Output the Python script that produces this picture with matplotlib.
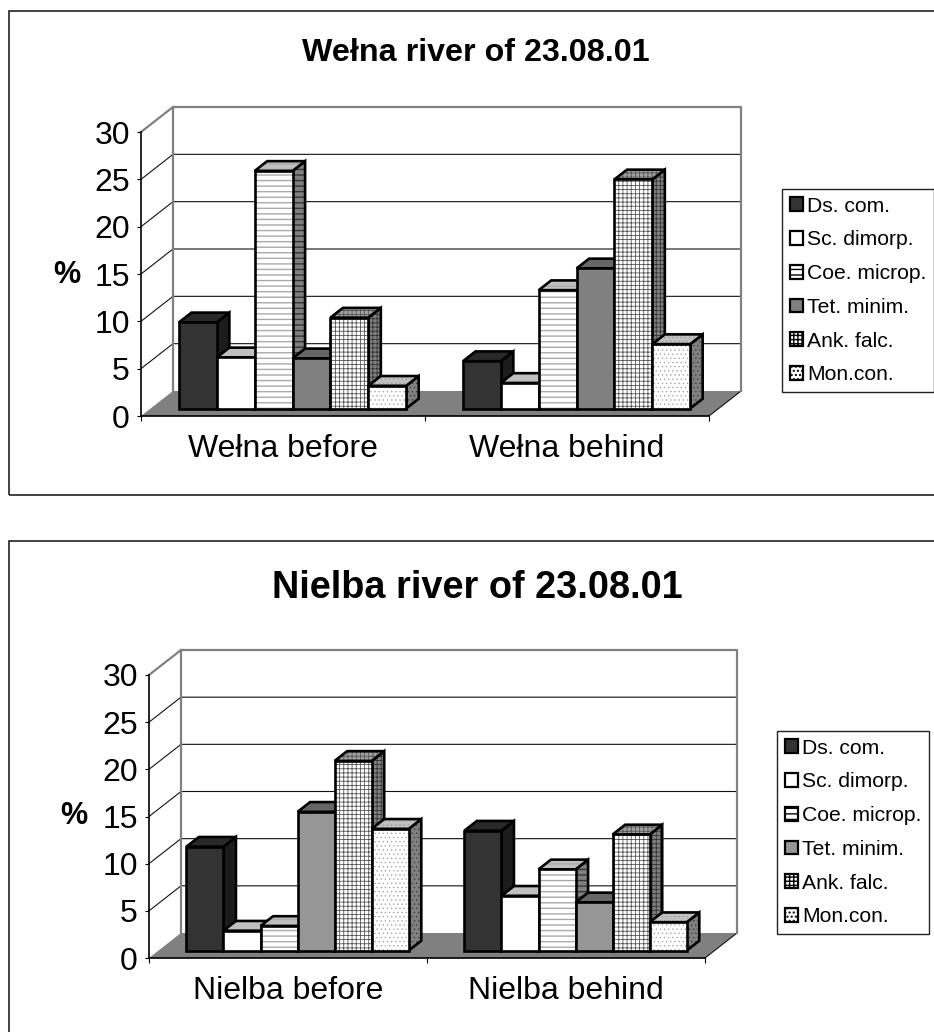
import matplotlib
matplotlib.use("Agg")
import matplotlib.pyplot as plt
from matplotlib.patches import Patch, Polygon, Rectangle

W, H = 934, 1032

species = ["Ds. com.", "Sc. dimorp.", "Coe. microp.", "Tet. minim.", "Ank. falc.", "Mon.con."]

welna_sites = ["Wełna before", "Wełna behind"]
welna_before = [9.1, 5.4, 25.1, 5.3, 9.6, 2.4]
welna_behind = [5.0, 2.7, 12.5, 14.8, 24.2, 6.8]

nielba_sites = ["Nielba before", "Nielba behind"]
nielba_before = [11.0, 2.1, 2.6, 14.7, 20.1, 12.9]
nielba_behind = [12.7, 5.8, 8.6, 5.1, 12.3, 3.0]

y_ticks = [0, 5, 10, 15, 20, 25, 30]

# front, side, top colour and hatch of each species
front_colors = ["#333333", "#ffffff", "#ffffff", "#808080", "#ffffff", "#ffffff"]
side_colors = ["#1c1c1c", "#808080", "#808080", "#666666", "#808080", "#808080"]
top_colors = ["#292929", "#c0c0c0", "#c0c0c0", "#666666", "#a0a0a0", "#c0c0c0"]
hatches = [None, None, "---", None, "++++", "...."]
hatch_colors = ["#333333", "#808080", "#aaaaaa", "#808080", "#555555", "#999999"]
hatch_widths = [0.6, 0.6, 1.0, 0.6, 0.6, 0.4]

plt.rcParams["font.family"] = ["Liberation Sans", "DejaVu Sans"]


def face(ax, pts, color, hatch, hatch_color, hatch_width):
    if hatch:
        with plt.rc_context({"hatch.linewidth": hatch_width}):
            ax.add_patch(Polygon(pts, facecolor=color, edgecolor=hatch_color, hatch=hatch,
                                 linewidth=0, clip_on=False, zorder=3))
    else:
        ax.add_patch(Polygon(pts, facecolor=color, edgecolor="none", clip_on=False, zorder=3))
    ax.add_patch(Polygon(pts, facecolor="none", edgecolor="black", linewidth=1.9,
                         joinstyle="miter", clip_on=False, zorder=3))


def chart(fig, box, plot, depth, sites, groups, title, title_size, title_xy, pct, leg, tet_color):
    # frame of the chart
    x0, y0, x1, y1 = box
    fig.add_artist(Rectangle((x0 / W, 1 - y1 / H), (x1 - x0) / W, (y1 - y0) / H,
                             transform=fig.transFigure, fill=False, edgecolor="#222222", linewidth=1.2))
    fig.text(title_xy[0] / W, 1 - title_xy[1] / H, title, ha="center", va="center",
             fontsize=title_size, fontweight="bold")
    fig.text(pct[0] / W, 1 - pct[1] / H, "%", ha="center", va="center", fontsize=22, fontweight="bold")

    left, top, right, bottom = plot
    ax = fig.add_axes([left / W, 1 - bottom / H, (right - left) / W, (bottom - top) / H])
    ax.patch.set_visible(False)
    ax.set_xlim(0, 2)
    ax.set_ylim(0, 30)

    # depth of the floor in data units
    dx = depth[0] * 2 / (right - left)
    dy = depth[1] * 30 / (bottom - top)

    ax.add_patch(Polygon([(0, 0), (2, 0), (2 + dx, dy), (dx, dy)], facecolor="#808080",
                         edgecolor="none", clip_on=False, zorder=1))
    for v in y_ticks[1:-1]:
        ax.plot([0, dx, 2 + dx], [v, v + dy, v + dy], color="#111111", lw=0.8, clip_on=False, zorder=1)
    ax.plot([2, 2 + dx], [0, dy], color="#111111", lw=0.8, clip_on=False, zorder=1)
    ax.plot([0, dx, 2 + dx, 2 + dx], [30, 30 + dy, 30 + dy, dy], color="#808080", lw=1.6,
            clip_on=False, zorder=2)
    ax.plot([dx, dx], [dy, 30 + dy], color="#808080", lw=1.6, clip_on=False, zorder=2)

    # bars stand 0.3 into the floor and take the next 0.4 of it
    gap = 0.1
    width = (1 - 2 * gap) / 6
    ox, oy = dx * 0.3, dy * 0.3
    bx, by = dx * 0.39, dy * 0.39
    for g, values in enumerate(groups):
        for i, v in enumerate(values):
            a = g + gap + i * width + ox
            b = a + width
            fc = tet_color if i == 3 else front_colors[i]
            h, hc, hw = hatches[i], hatch_colors[i], hatch_widths[i]
            face(ax, [(b, oy), (b + bx, oy + by), (b + bx, v + oy + by), (b, v + oy)],
                 side_colors[i], h, "#333333", hw)
            face(ax, [(a, v + oy), (b, v + oy), (b + bx, v + oy + by), (a + bx, v + oy + by)],
                 top_colors[i], h, hc, hw)
            face(ax, [(a, oy), (b, oy), (b, v + oy), (a, v + oy)], fc, h, hc, hw)

    for s in ["top", "right"]:
        ax.spines[s].set_visible(False)
    for s in ["left", "bottom"]:
        ax.spines[s].set_linewidth(1.2)
        ax.spines[s].set_zorder(4)
    ax.set_yticks(y_ticks)
    ax.set_xticks([0, 1, 2])
    ax.set_xticklabels([])
    ax.set_xticks([0.5, 1.5], minor=True)
    ax.set_xticklabels(sites, minor=True)
    ax.tick_params(axis="x", which="major", length=3.5, width=0.8)
    ax.tick_params(axis="x", which="minor", length=0, labelsize=23, pad=13)
    ax.tick_params(axis="y", length=3, width=0.8, labelsize=23, pad=5)

    with plt.rc_context({"hatch.linewidth": 0.5}):
        handles = [Patch(facecolor=tet_color if i == 3 else front_colors[i], edgecolor="black",
                         hatch=hatches[i], linewidth=1.6) for i in range(6)]
    ax.legend(handles, species, loc="upper left", bbox_to_anchor=(leg[0] / W, 1 - leg[1] / H),
              bbox_transform=fig.transFigure, fontsize=15.2, fancybox=False, framealpha=1,
              edgecolor="#222222", borderaxespad=0, borderpad=0.36, labelspacing=0.70,
              handlelength=0.62, handleheight=0.62, handletextpad=0.22)


fig = plt.figure(figsize=(W / 100, H / 100), dpi=100)
chart(fig, (9, 11, 940, 495), (141, 132, 709, 416), (32, 25), welna_sites,
      [welna_before, welna_behind], "Wełna river of 23.08.01", 23.2, (476, 53), (67, 275), (782, 189), "#808080")
chart(fig, (9, 541, 940, 1040), (149, 675, 705, 958), (32, 25), nielba_sites,
      [nielba_before, nielba_behind], "Nielba river of 23.08.01", 27.3, (477, 588), (74, 816), (777, 731), "#969696")
fig.savefig("out.png", dpi=100)
